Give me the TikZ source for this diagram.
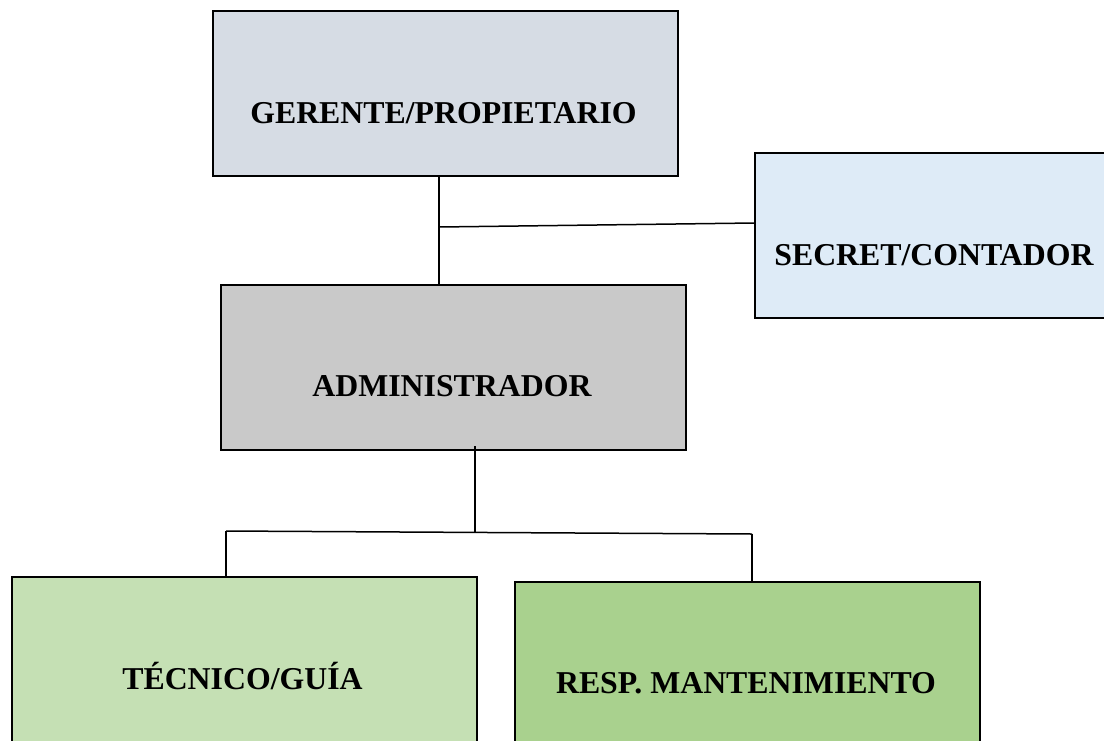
\documentclass[tikz,border=0pt]{standalone}
\usepackage{fontspec}
\setmainfont{Liberation Serif}
\definecolor{cGer}{HTML}{D6DCE4}
\definecolor{cSec}{HTML}{DEEBF7}
\definecolor{cAdm}{HTML}{C9C9C9}
\definecolor{cTec}{HTML}{C5E0B4}
\definecolor{cRes}{HTML}{A9D18E}
\begin{document}
\begin{tikzpicture}[x=1pt,y=-1pt,
  box/.style={draw=black,line width=2pt,rectangle,inner sep=0pt,anchor=north west,
              minimum width=465pt,minimum height=165pt},
  lbl/.style={font=\fontsize{31.8}{36}\selectfont\bfseries,inner sep=0pt,anchor=base},
  conn/.style={draw=black,line width=1.5pt}]
\useasboundingbox (0,0) rectangle (1104,740);
\fill[white] (0,0) rectangle (1104,740);
\clip (0,0) rectangle (1104,740);
% boxes
\node[box,fill=cGer] (g) at (212,10) {};
\node[box,fill=cSec] (s) at (754,152) {};
\node[box,fill=cAdm] (a) at (220,284) {};
\node[box,fill=cTec] (t) at (11,576) {};
\node[box,fill=cRes] (r) at (514,581) {};
% labels
\node[lbl] (gl) at (443.5,123) {GERENTE/PROPIETARIO};
\node[lbl] (sl) at (934,265) {SECRET/CONTADOR};
\node[lbl] (al) at (452,396) {ADMINISTRADOR};
\node[lbl] (tl) at (242.5,689) {TÉCNICO/GUÍA};
\node[lbl] (rl) at (746,693) {RESP. MANTENIMIENTO};
% connectors
\coordinate (j1) at (439,227);
\coordinate (j2) at (754,223);
\draw[conn] (j1 |- g.south) -- (j1 |- a.north);
\draw[conn] (j1) -- (j2);
\coordinate (k) at (475,532);
\coordinate (hl) at (226,531);
\coordinate (hr) at (752,534);
\draw[conn] ([yshift=5pt]k |- a.south) -- (k);
\draw[conn] (hl) -- (hr);
\draw[conn] (hl) -- (hl |- t.north);
\draw[conn] (hr) -- (hr |- r.north);
\end{tikzpicture}
\end{document}
